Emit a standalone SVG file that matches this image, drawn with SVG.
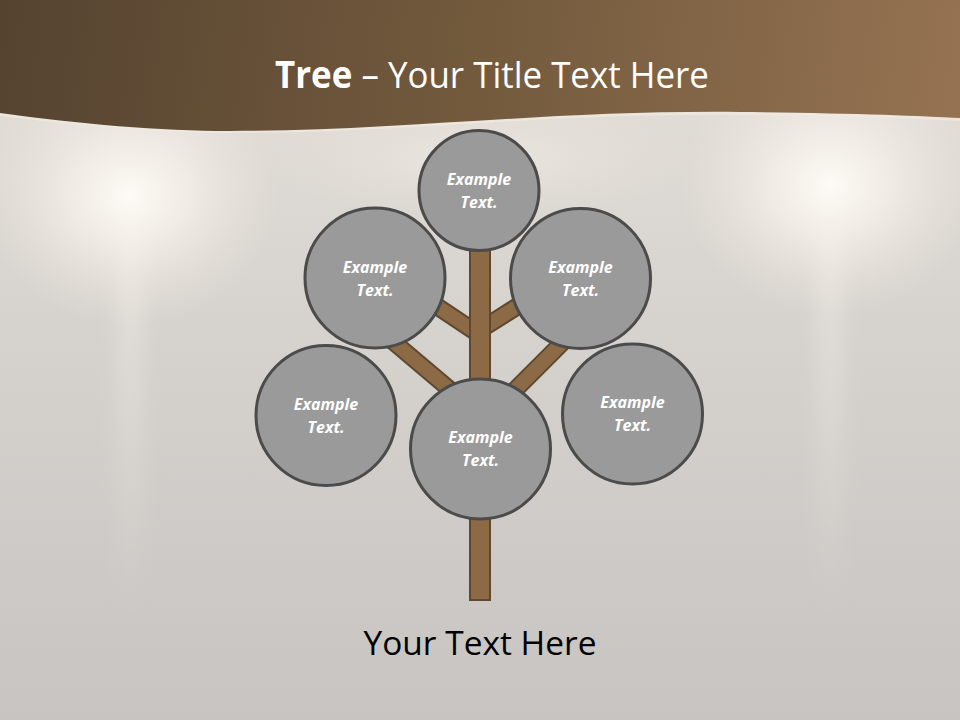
<svg xmlns="http://www.w3.org/2000/svg" width="960" height="720" viewBox="0 0 960 720">
  <defs>
    <linearGradient id="bg" x1="0" y1="0" x2="0" y2="1">
      <stop offset="0" stop-color="#e6e1da"/>
      <stop offset="0.45" stop-color="#d6d2ce"/>
      <stop offset="1" stop-color="#c8c4c1"/>
    </linearGradient>
    <radialGradient id="glow" cx="0.5" cy="0.5" r="0.5">
      <stop offset="0" stop-color="#fdfbf7" stop-opacity="1"/>
      <stop offset="0.35" stop-color="#f7f2ea" stop-opacity="0.8"/>
      <stop offset="1" stop-color="#efe8de" stop-opacity="0"/>
    </radialGradient>
    <linearGradient id="ray" x1="0" y1="0" x2="0" y2="1">
      <stop offset="0" stop-color="#f4efe8" stop-opacity="0.6"/>
      <stop offset="1" stop-color="#f4efe8" stop-opacity="0"/>
    </linearGradient>
    <linearGradient id="band" x1="0" y1="0" x2="960" y2="130" gradientUnits="userSpaceOnUse">
      <stop offset="0" stop-color="#554330"/>
      <stop offset="0.5" stop-color="#735a3d"/>
      <stop offset="1" stop-color="#957352"/>
    </linearGradient>
    <filter id="soft" x="-1" y="-0.2" width="3" height="1.4">
      <feGaussianBlur stdDeviation="10"/>
    </filter>
  </defs>
  <style>
    .node circle { fill: #9a9a9a; stroke: #4b4b4b; stroke-width: 3; }
    .lbl { font-family: "Open Sans", "Noto Sans", sans-serif; font-size: 16px; font-weight: bold; font-style: italic; fill: #ffffff; text-anchor: middle; }
    .br-out { stroke: #5e4830; stroke-width: 18; fill: none; }
    .br-in { stroke: #8b6a45; stroke-width: 14; fill: none; }
  </style>

  <!-- background -->
  <rect x="0" y="0" width="960" height="720" fill="url(#bg)"/>
  <rect x="118" y="190" width="24" height="420" fill="url(#ray)" filter="url(#soft)"/>
  <rect x="818" y="180" width="24" height="430" fill="url(#ray)" filter="url(#soft)"/>
  <ellipse cx="130" cy="195" rx="150" ry="130" fill="url(#glow)"/>
  <ellipse cx="830" cy="185" rx="150" ry="130" fill="url(#glow)"/>
  <ellipse cx="480" cy="160" rx="220" ry="60" fill="url(#glow)" opacity="0.35"/>

  <!-- header band -->
  <path d="M0,116 C80,126 160,133 230,133 C400,133 550,113 740,115 C850,116 920,119 960,121 V0 H0 Z" fill="#efe9e1" opacity="0.7"/>
  <path d="M0,113 C80,124 160,131 230,131 C400,131 550,110 740,112 C850,113 920,116 960,118 V0 H0 Z" fill="url(#band)"/>

  <text x="492" y="88" font-family="Open Sans, Noto Sans, sans-serif" font-size="37" fill="#ffffff" text-anchor="middle" textLength="434" lengthAdjust="spacingAndGlyphs"><tspan font-weight="bold">Tree</tspan> – Your Title Text Here</text>

  <!-- connectors: branches and trunk -->
  <g id="connectors">
    <line class="br-out" x1="480" y1="335" x2="390" y2="275"/>
    <line class="br-out" x1="480" y1="330" x2="570" y2="273"/>
    <line class="br-out" x1="480" y1="415" x2="370" y2="322"/>
    <line class="br-out" x1="480" y1="425" x2="590" y2="315"/>
    <line class="br-in" x1="480" y1="335" x2="390" y2="275"/>
    <line class="br-in" x1="480" y1="330" x2="570" y2="273"/>
    <line class="br-in" x1="480" y1="415" x2="370" y2="322"/>
    <line class="br-in" x1="480" y1="425" x2="590" y2="315"/>
    <rect x="470" y="245" width="20" height="355" fill="#8b6a45" stroke="#5e4830" stroke-width="2"/>
  </g>

  <!-- nodes -->
  <g id="node-top" class="node">
    <circle cx="479" cy="190.5" r="60"/>
    <text class="lbl" x="479" y="185">Example</text>
    <text class="lbl" x="479" y="208">Text.</text>
  </g>
  <g id="node-upper-left" class="node">
    <circle cx="375" cy="278" r="70"/>
    <text class="lbl" x="375" y="273">Example</text>
    <text class="lbl" x="375" y="296">Text.</text>
  </g>
  <g id="node-upper-right" class="node">
    <circle cx="580.5" cy="278.5" r="70"/>
    <text class="lbl" x="580.5" y="273">Example</text>
    <text class="lbl" x="580.5" y="296">Text.</text>
  </g>
  <g id="node-lower-left" class="node">
    <circle cx="326" cy="415.5" r="70"/>
    <text class="lbl" x="326" y="410">Example</text>
    <text class="lbl" x="326" y="433">Text.</text>
  </g>
  <g id="node-center" class="node">
    <circle cx="480.5" cy="449" r="70"/>
    <text class="lbl" x="480.5" y="443">Example</text>
    <text class="lbl" x="480.5" y="466">Text.</text>
  </g>
  <g id="node-lower-right" class="node">
    <circle cx="632.5" cy="414" r="70"/>
    <text class="lbl" x="632.5" y="408">Example</text>
    <text class="lbl" x="632.5" y="431">Text.</text>
  </g>

  <text x="480" y="655" font-family="Open Sans, Noto Sans, sans-serif" font-size="33" fill="#000000" text-anchor="middle" textLength="233" lengthAdjust="spacingAndGlyphs">Your Text Here</text>
</svg>
